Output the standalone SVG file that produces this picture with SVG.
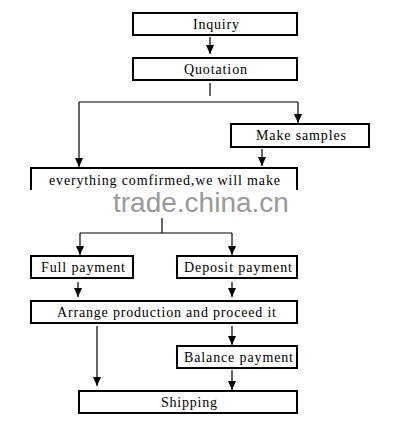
<svg xmlns="http://www.w3.org/2000/svg" width="403" height="424" viewBox="0 0 403 424">
<defs>
<marker id="ah" viewBox="0 0 9 8" refX="9" refY="4" markerWidth="9" markerHeight="8" markerUnits="userSpaceOnUse" orient="auto">
<path d="M0,0 L9,4 L0,8 Z" fill="#000"/>
</marker>
<style>
.box{fill:#fff;stroke:#000;stroke-width:2}
.c{fill:none;stroke:#000;stroke-width:1.2}
.a{fill:none;stroke:#000;stroke-width:1.2;marker-end:url(#ah)}
</style>
</defs>
<rect width="403" height="424" fill="#fff"/>
<g id="connectors">
<line class="a" x1="210" y1="37" x2="210" y2="54"/>
<line class="c" x1="210" y1="83" x2="210" y2="96"/>
<line class="c" x1="79" y1="102" x2="298" y2="102"/>
<line class="a" x1="79" y1="102" x2="79" y2="167"/>
<line class="a" x1="298" y1="102" x2="298" y2="123"/>
<line class="a" x1="262" y1="149" x2="262" y2="166"/>
<line class="c" x1="162" y1="218" x2="162" y2="233"/>
<line class="c" x1="80" y1="233" x2="232" y2="233"/>
<line class="a" x1="80" y1="233" x2="80" y2="255"/>
<line class="a" x1="232" y1="233" x2="232" y2="255"/>
<line class="a" x1="78" y1="282" x2="78" y2="297"/>
<line class="a" x1="232" y1="282" x2="232" y2="297"/>
<line class="a" x1="97" y1="326" x2="97" y2="386"/>
<line class="a" x1="232" y1="326" x2="232" y2="345"/>
<line class="a" x1="232" y1="370" x2="232" y2="390"/>
</g>
<g font-family="'Liberation Serif', 'Times New Roman', serif" font-size="14" fill="#000">
<g id="inquiry">
<rect class="box" x="133" y="13" width="164" height="22"/>
<text x="193" y="29" textLength="46" lengthAdjust="spacing">Inquiry</text>
</g>
<g id="quotation">
<rect class="box" x="133" y="58" width="164" height="22"/>
<text x="184" y="74" textLength="63" lengthAdjust="spacing">Quotation</text>
</g>
<g id="make-samples">
<rect class="box" x="231" y="124" width="138" height="23"/>
<text x="256" y="140" textLength="90" lengthAdjust="spacing">Make samples</text>
</g>
<g id="confirmed">
<path d="M31,190 V168 H297 V190" fill="none" stroke="#000" stroke-width="2"/>
<text x="49" y="185" textLength="231" lengthAdjust="spacing">everything comfirmed,we will make</text>
</g>
<g id="full-payment">
<rect class="box" x="31" y="256" width="102" height="22"/>
<text x="41" y="272" textLength="84" lengthAdjust="spacing">Full payment</text>
</g>
<g id="deposit-payment">
<rect class="box" x="177" y="256" width="120" height="22"/>
<text x="184" y="272" textLength="108" lengthAdjust="spacing">Deposit payment</text>
</g>
<g id="arrange">
<rect class="box" x="31" y="301" width="266" height="22"/>
<text x="57" y="317" textLength="219" lengthAdjust="spacing">Arrange production and proceed it</text>
</g>
<g id="balance-payment">
<rect class="box" x="177" y="346" width="120" height="22"/>
<text x="184" y="362" textLength="109" lengthAdjust="spacing">Balance payment</text>
</g>
<g id="shipping">
<rect class="box" x="79" y="391" width="218" height="22"/>
<text x="161" y="407" textLength="56" lengthAdjust="spacing">Shipping</text>
</g>
</g>
<text x="113" y="212" font-family="'Liberation Sans', Arial, sans-serif" font-size="28" fill="#9a9a9a">trade.china.cn</text>
</svg>
